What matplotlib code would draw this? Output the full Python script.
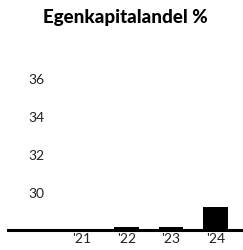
import matplotlib.pyplot as plt

# data
years = ["'21", "'22", "'23", "'24"]
equity_ratio = [28.0, 28.15, 28.15, 29.2]
y_ticks = [30, 32, 34, 36]

fig = plt.figure(figsize=(2.43, 2.51), dpi=100)
ax = fig.add_axes([8 / 243, 20 / 251, 235 / 243, 171 / 251])

x = list(range(len(years)))
ax.bar(x, [v - 28 for v in equity_ratio], bottom=28, width=0.56, color='black')

ax.set_xlim(-1.663, 3.618)
ax.set_ylim(28, 37)

ax.set_xticks(x)
ax.set_xticklabels(years, fontsize=10, family='Lato', color='#222222')
ax.tick_params(axis='x', length=0, pad=1.5)

ax.set_yticks(y_ticks)
ax.set_yticklabels([str(t) for t in y_ticks], fontsize=10, family='Lato',
                   color='#222222', ha='left')
ax.tick_params(axis='y', length=0, pad=-14.4)

for s in ['top', 'right', 'left']:
    ax.spines[s].set_visible(False)
ax.spines['bottom'].set_linewidth(2.2)

fig.text(0.515, 1 - 18 / 251, 'Egenkapitalandel %', ha='center', va='center',
         fontsize=13.5, fontweight='black', family='Lato')

fig.savefig('out.png', dpi=100)
